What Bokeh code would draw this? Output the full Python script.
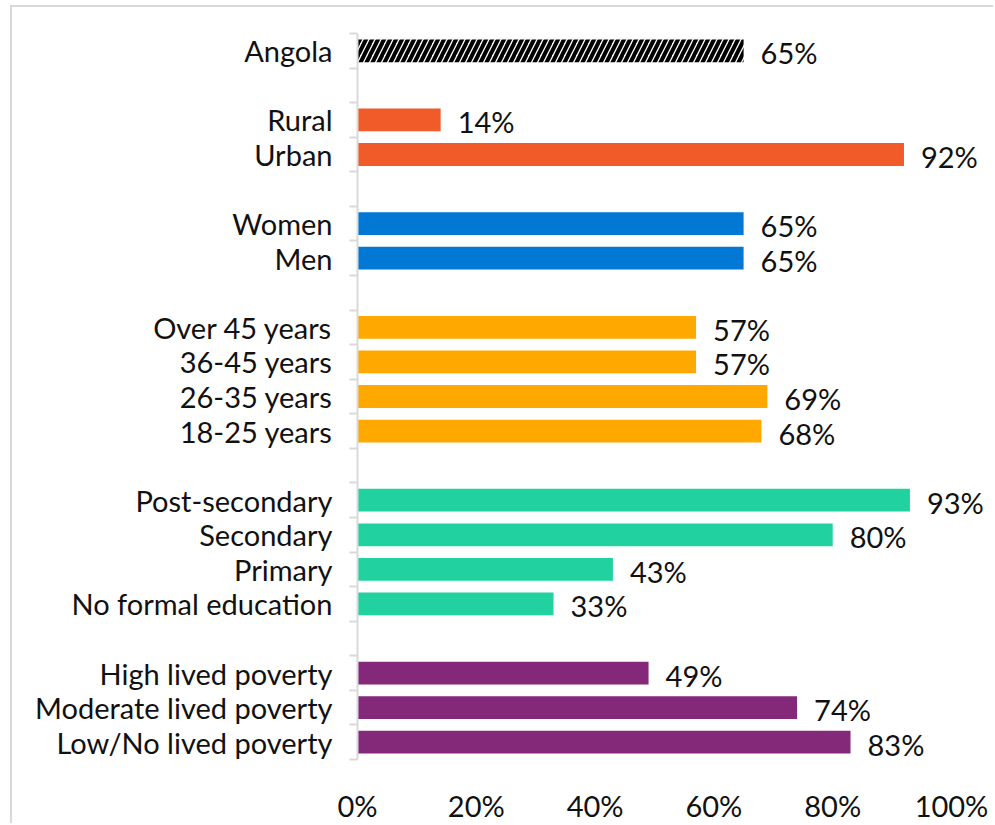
from bokeh.plotting import figure
from bokeh.models import ColumnDataSource, Range1d, FixedTicker, NumeralTickFormatter
from bokeh.core.properties import value
from bokeh.embed import file_html
from bokeh.resources import INLINE

# ---- data ----
categories = ["Angola", "", "Rural", "Urban", "", "Women", "Men", "",
              "Over 45 years", "36-45 years", "26-35 years", "18-25 years", "",
              "Post-secondary", "Secondary", "Primary", "No formal education", "",
              "High lived poverty", "Moderate lived poverty", "Low/No lived poverty"]
values = [65, None, 14, 92, None, 65, 65, None, 57, 57, 69, 68, None,
          93, 80, 43, 33, None, 49, 74, 83]
groups = ["all", None, "loc", "loc", None, "sex", "sex", None,
          "age", "age", "age", "age", None,
          "edu", "edu", "edu", "edu", None, "pov", "pov", "pov"]
group_colors = {"all": "white", "loc": "#F15A29", "sex": "#0078D4",
                "age": "#FFA800", "edu": "#22D1A0", "pov": "#84287A"}
x_ticks = [0, 0.2, 0.4, 0.6, 0.8, 1.0]

FONT = "Lato"
FS = "29px"

ys, xs, cols, labs, hatches = [], [], [], [], []
for i, (c, v, g) in enumerate(zip(categories, values, groups)):
    if v is None:
        continue
    ys.append(i)
    xs.append(v / 100)
    cols.append(group_colors[g])
    labs.append(f"{v}%")
    hatches.append("/" if g == "all" else " ")

src = ColumnDataSource(dict(y=ys, x=xs, color=cols, label=labs, hatch=hatches))

# frame: x from 357 (0%) to 995, 100% at 951
x_end = (995 - 357) / 594

p = figure(width=983, height=818, output_backend="svg", toolbar_location=None,
           x_range=Range1d(0, x_end), y_range=Range1d(len(categories) - 0.5, -0.5),
           min_border_left=345, min_border_right=0, min_border_top=26,
           min_border_bottom=61,
           styles={"margin-left": "10px", "margin-top": "5px",
                   "border-left": "2px solid #D9D9D9",
                   "border-top": "2px solid #D9D9D9"})
p.outline_line_color = None
p.xgrid.visible = False
p.ygrid.visible = False

p.hbar(y="y", left=0, right="x", height=0.66, source=src, fill_color="color",
       line_color=None, hatch_pattern="hatch", hatch_color="black",
       hatch_scale=12, hatch_weight=4)

p.text(x="x", y="y", text="label", source=src, x_offset=17, y_offset=2,
       text_baseline="middle", text_align="left", text_font=value(FONT),
       text_font_size=FS, text_color="#111111")

# y axis
yax = p.yaxis[0]
yax.ticker = FixedTicker(ticks=ys,
                         minor_ticks=[k - 0.5 for k in range(len(categories) + 1)])
yax.major_label_overrides = {i: categories[i] for i in ys}
yax.major_tick_out = 0
yax.major_tick_in = 0
yax.minor_tick_out = 8
yax.minor_tick_in = 0
yax.minor_tick_line_color = "#D9D9D9"
yax.minor_tick_line_width = 2
yax.axis_line_color = "#D9D9D9"
yax.axis_line_width = 2
yax.major_label_standoff = 17
yax.major_label_text_font = FONT
yax.major_label_text_font_size = FS
yax.major_label_text_color = "#111111"

# x axis
xax = p.xaxis[0]
xax.ticker = FixedTicker(ticks=x_ticks)
xax.formatter = NumeralTickFormatter(format="0%")
xax.axis_line_color = None
xax.major_tick_line_color = None
xax.minor_tick_line_color = None
xax.major_label_standoff = 22
xax.major_label_text_font = FONT
xax.major_label_text_font_size = FS
xax.major_label_text_color = "#111111"

open("out.html", "w").write(file_html(p, INLINE))
